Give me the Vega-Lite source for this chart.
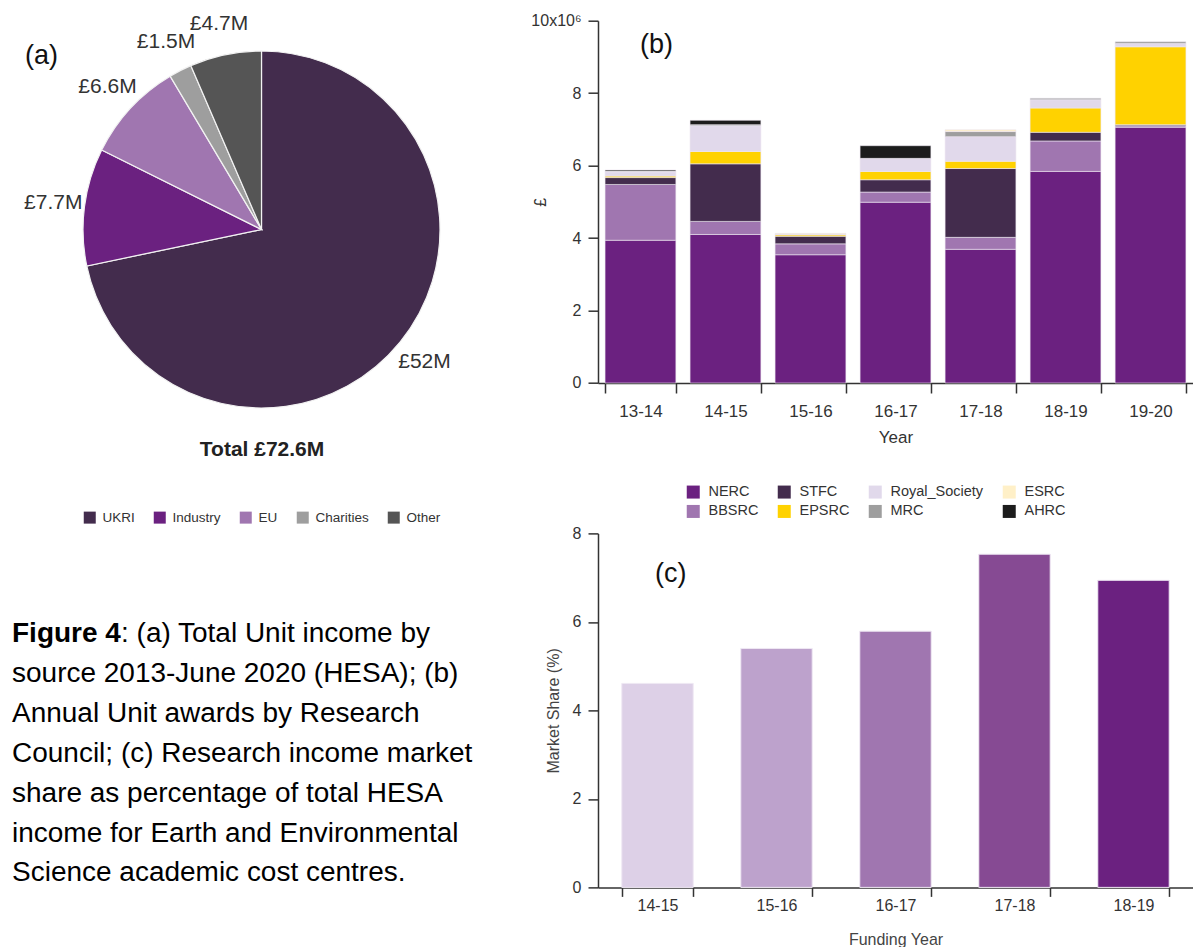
{
  "$schema": "https://vega.github.io/schema/vega-lite/v6.json",
  "padding": {"left": 0, "top": 12.7, "right": 0, "bottom": 0},
  "background": "white",
  "config": {
    "font": "Liberation Sans",
    "view": {"stroke": null, "fill": "white"},
    "axis": {"grid": false, "domainColor": "#333", "domainWidth": 1.5, "tickColor": "#333", "tickWidth": 1.5, "labelColor": "#333", "titleColor": "#333", "titleFontWeight": "normal", "labelFont": "Liberation Sans", "titleFont": "Liberation Sans"},
    "title": {"font": "Liberation Sans", "fontWeight": "normal", "fontSize": 27, "color": "#111"},
    "legend": {"labelFont": "Liberation Sans", "titleFont": "Liberation Sans"}
  },
  "columns": 2,
  "bounds": "flush",
  "align": "each",
  "spacing": {"row": 94.7, "column": 75},
  "resolve": {
    "scale": {"color": "independent", "x": "independent", "y": "independent", "theta": "independent"},
    "legend": {"color": "independent"}
  },
  "concat": [
    {
      "width": 523,
      "height": 417.6,
      "title": {"text": "(a)", "anchor": "start", "frame": "group", "baseline": "middle", "dx": 25, "offset": -69.8},
      "data": {"values": [
        {"source": "UKRI", "income": 52},
        {"source": "Industry", "income": 7.7},
        {"source": "EU", "income": 6.6},
        {"source": "Charities", "income": 1.5},
        {"source": "Other", "income": 4.7}
      ]},
      "transform": [
        {"calculate": "indexof(['UKRI','Industry','EU','Charities','Other'], datum.source)", "as": "slice_order"},
        {"calculate": "'£' + datum.income + 'M'", "as": "label"}
      ],
      "encoding": {
        "theta": {"field": "income", "type": "quantitative", "stack": true},
        "order": {"field": "slice_order", "type": "quantitative", "sort": "ascending"}
      },
      "layer": [
        {
          "mark": {"type": "arc", "outerRadius": 178.5, "stroke": "#f2f2f2", "strokeWidth": 1.2},
          "encoding": {
            "color": {
              "field": "source", "type": "nominal",
              "scale": {"domain": ["UKRI", "Industry", "EU", "Charities", "Other"], "range": ["#432c4d", "#6b2180", "#a076b0", "#9e9e9e", "#555555"]},
              "legend": {
                "orient": "none", "legendX": 83, "legendY": 418.8, "direction": "horizontal", "padding": 0,
                "title": "Total £72.6M", "titleFontSize": 21, "titleFontWeight": "bold", "titleColor": "#222",
                "titleAnchor": "middle", "titleOrient": "top", "titlePadding": 50,
                "symbolType": "square", "symbolSize": 144, "symbolStrokeWidth": 0,
                "labelFontSize": 13.5, "labelColor": "#333", "labelOffset": 6, "columnPadding": 18
              }
            }
          }
        },
        {
          "mark": {"type": "text", "radius": 210, "fontSize": 21, "color": "#333", "align": "center", "baseline": "middle"},
          "encoding": {"text": {"field": "label", "type": "nominal"}}
        }
      ]
    },
    {
      "width": 595,
      "height": 362.3,
      "title": {"text": "(b)", "anchor": "start", "frame": "group", "baseline": "middle", "dx": 42, "offset": -59.8},
      "data": {"values": [
        {"year": "13-14", "council": "NERC", "amount": 3940000},
        {"year": "13-14", "council": "BBSRC", "amount": 1540000},
        {"year": "13-14", "council": "STFC", "amount": 190000},
        {"year": "13-14", "council": "EPSRC", "amount": 40000},
        {"year": "13-14", "council": "Royal_Society", "amount": 120000},
        {"year": "13-14", "council": "MRC", "amount": 20000},
        {"year": "13-14", "council": "AHRC", "amount": 30000},
        {"year": "14-15", "council": "NERC", "amount": 4100000},
        {"year": "14-15", "council": "BBSRC", "amount": 360000},
        {"year": "14-15", "council": "STFC", "amount": 1590000},
        {"year": "14-15", "council": "EPSRC", "amount": 340000},
        {"year": "14-15", "council": "Royal_Society", "amount": 710000},
        {"year": "14-15", "council": "MRC", "amount": 30000},
        {"year": "14-15", "council": "AHRC", "amount": 120000},
        {"year": "15-16", "council": "NERC", "amount": 3540000},
        {"year": "15-16", "council": "BBSRC", "amount": 300000},
        {"year": "15-16", "council": "STFC", "amount": 210000},
        {"year": "15-16", "council": "EPSRC", "amount": 40000},
        {"year": "15-16", "council": "Royal_Society", "amount": 20000},
        {"year": "15-16", "council": "ESRC", "amount": 20000},
        {"year": "16-17", "council": "NERC", "amount": 4990000},
        {"year": "16-17", "council": "BBSRC", "amount": 280000},
        {"year": "16-17", "council": "STFC", "amount": 340000},
        {"year": "16-17", "council": "EPSRC", "amount": 230000},
        {"year": "16-17", "council": "Royal_Society", "amount": 360000},
        {"year": "16-17", "council": "AHRC", "amount": 350000},
        {"year": "17-18", "council": "NERC", "amount": 3690000},
        {"year": "17-18", "council": "BBSRC", "amount": 330000},
        {"year": "17-18", "council": "STFC", "amount": 1900000},
        {"year": "17-18", "council": "EPSRC", "amount": 200000},
        {"year": "17-18", "council": "Royal_Society", "amount": 680000},
        {"year": "17-18", "council": "MRC", "amount": 140000},
        {"year": "17-18", "council": "ESRC", "amount": 50000},
        {"year": "18-19", "council": "NERC", "amount": 5840000},
        {"year": "18-19", "council": "BBSRC", "amount": 840000},
        {"year": "18-19", "council": "STFC", "amount": 240000},
        {"year": "18-19", "council": "EPSRC", "amount": 670000},
        {"year": "18-19", "council": "Royal_Society", "amount": 230000},
        {"year": "18-19", "council": "MRC", "amount": 40000},
        {"year": "19-20", "council": "NERC", "amount": 7060000},
        {"year": "19-20", "council": "BBSRC", "amount": 40000},
        {"year": "19-20", "council": "STFC", "amount": 30000},
        {"year": "19-20", "council": "EPSRC", "amount": 2150000},
        {"year": "19-20", "council": "Royal_Society", "amount": 90000},
        {"year": "19-20", "council": "MRC", "amount": 50000}
      ]},
      "transform": [
        {"calculate": "indexof(['NERC','BBSRC','STFC','EPSRC','Royal_Society','MRC','ESRC','AHRC'], datum.council)", "as": "stack_order"}
      ],
      "mark": {"type": "bar", "stroke": "#ece6f0", "strokeWidth": 0.6},
      "encoding": {
        "x": {
          "field": "year", "type": "nominal", "title": "Year", "sort": null,
          "scale": {"paddingInner": 0.167, "paddingOuter": 0.083},
          "axis": {"labelAngle": 0, "tickBand": "extent", "tickSize": 10, "labelPadding": 11, "labelFontSize": 17, "titleFontSize": 17, "titlePadding": 10}
        },
        "y": {
          "field": "amount", "type": "quantitative", "stack": "zero", "title": "£",
          "scale": {"domain": [0, 10000000], "nice": false},
          "axis": {"values": [0, 2000000, 4000000, 6000000, 8000000, 10000000], "labelExpr": "datum.value >= 10000000 ? '10x10⁶' : format(datum.value / 1000000, 'd')", "tickSize": 10, "labelPadding": 7, "labelFontSize": 16, "titleFontSize": 16, "titleX": -50}
        },
        "color": {
          "field": "council", "type": "nominal",
          "scale": {
            "domain": ["NERC", "STFC", "Royal_Society", "ESRC", "BBSRC", "EPSRC", "MRC", "AHRC"],
            "range": ["#6b2180", "#432c4d", "#e1d9eb", "#fff0c8", "#a076b0", "#ffd200", "#9e9e9e", "#1c1c1c"]
          },
          "legend": {
            "orient": "none", "legendX": 88, "legendY": 464, "direction": "horizontal", "columns": 4, "padding": 0,
            "title": null, "symbolType": "square", "symbolSize": 169, "symbolStrokeWidth": 0,
            "labelFontSize": 14.5, "labelColor": "#333", "labelOffset": 8, "columnPadding": 18, "rowPadding": 4.5
          }
        },
        "order": {"field": "stack_order", "type": "quantitative", "sort": "ascending"}
      }
    },
    {
      "width": 480,
      "height": 354,
      "data": {"values": [
        {"line": 1, "part": "bold", "text": "Figure 4"},
        {"line": 1, "part": "rest", "text": ": (a) Total Unit income by"},
        {"line": 2, "part": "body", "text": "source 2013-June 2020 (HESA); (b)"},
        {"line": 3, "part": "body", "text": "Annual Unit awards by Research"},
        {"line": 4, "part": "body", "text": "Council; (c) Research income market"},
        {"line": 5, "part": "body", "text": "share as percentage of total HESA"},
        {"line": 6, "part": "body", "text": "income for Earth and Environmental"},
        {"line": 7, "part": "body", "text": "Science academic cost centres."}
      ]},
      "encoding": {
        "y": {"field": "line", "type": "quantitative", "scale": {"domain": [-1.536, 7.352], "nice": false, "zero": false, "reverse": true}, "axis": null},
        "x": {"value": 0},
        "text": {"field": "text", "type": "nominal"}
      },
      "layer": [
        {
          "transform": [{"filter": "datum.part === 'bold'"}],
          "mark": {"type": "text", "align": "left", "baseline": "middle", "fontSize": 28, "fontWeight": "bold", "dx": 12, "color": "#000"}
        },
        {
          "transform": [{"filter": "datum.part === 'rest'"}],
          "mark": {"type": "text", "align": "left", "baseline": "middle", "fontSize": 28, "dx": 121, "color": "#000"}
        },
        {
          "transform": [{"filter": "datum.part === 'body'"}],
          "mark": {"type": "text", "align": "left", "baseline": "middle", "fontSize": 28, "dx": 12, "color": "#000"}
        }
      ]
    },
    {
      "width": 595,
      "height": 354,
      "title": {"text": "(c)", "anchor": "start", "frame": "group", "baseline": "middle", "dx": 57, "offset": -75.5},
      "data": {"values": [
        {"year": "14-15", "share": 4.61},
        {"year": "15-16", "share": 5.40},
        {"year": "16-17", "share": 5.79},
        {"year": "17-18", "share": 7.53},
        {"year": "18-19", "share": 6.94}
      ]},
      "mark": {"type": "bar", "stroke": "#efe8f3", "strokeWidth": 1},
      "encoding": {
        "x": {
          "field": "year", "type": "nominal", "title": "Funding Year", "sort": null,
          "scale": {"paddingInner": 0.4, "paddingOuter": 0.2},
          "axis": {"labelAngle": 0, "tickBand": "extent", "tickSize": 9, "labelPadding": 1, "labelFontSize": 16, "titleFontSize": 16, "titlePadding": 18, "titleColor": "#444"}
        },
        "y": {
          "field": "share", "type": "quantitative", "title": "Market Share (%)",
          "scale": {"domain": [0, 8], "nice": false},
          "axis": {"values": [0, 2, 4, 6, 8], "tickSize": 10, "labelPadding": 7, "labelFontSize": 16, "titleFontSize": 16, "titleColor": "#444", "titleX": -37}
        },
        "color": {
          "field": "year", "type": "nominal",
          "scale": {"domain": ["14-15", "15-16", "16-17", "17-18", "18-19"], "range": ["#ddd0e7", "#bda2cc", "#a076b0", "#864a93", "#6b2180"]},
          "legend": null
        }
      }
    }
  ]
}
